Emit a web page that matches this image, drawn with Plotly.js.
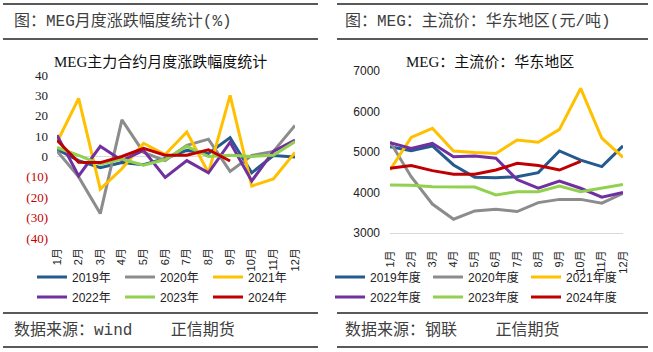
<!DOCTYPE html>
<html>
<head>
<meta charset="utf-8">
<script src="https://cdn.plot.ly/plotly-3.0.1.min.js"></script>
<style>html,body{margin:0;padding:0;background:#fff;}#chart{width:653px;height:352px;}</style>
</head>
<body>
<div id="chart"></div>
<script>
// ---- data ----
var months = ['1月','2月','3月','4月','5月','6月','7月','8月','9月','10月','11月','12月'];

// left: monthly change (%)
var chgNames = ['2019年','2020年','2021年','2022年','2023年','2024年'];
var chg2019 = [3.5, -2, -5.5, -3, -4, -1, 3, 1.5, 9.3, -8, 0.5, -0.3];
var chg2020 = [2.7, -10, -28, 18, 2, -2, 5.5, 8.5, -7.3, 0.5, 2.5, 15.2];
var chg2021 = [7, 28.5, -16, -6, 6.5, 1, 12, -8, 30, -14.5, -11, 2];
var chg2022 = [10.5, -9.5, 5, -2, 3, -10.3, -2, -8, 7, -12, 2.5, 8];
var chg2023 = [4.4, 0.5, -3.8, -1.3, -4.3, -1.5, 5, 0, 0.6, 0, 0.6, 7.3];
var chg2024 = [8, -2.8, -3, 0, 4, 0.6, 0.6, 3.3, -2.2];
var chgTickVals = [-40, -30, -20, -10, 0, 10, 20, 30, 40];
var chgTickText = ['(40)', '(30)', '(20)', '(10)', '0', '10', '20', '30', '40'];

// right: East China mainstream price (元/吨)
var priceNames = ['2019年度','2020年度','2021年度','2022年度','2023年度','2024年度'];
var p2019 = [5130, 5030, 5150, 4680, 4375, 4365, 4390, 4490, 5025, 4800, 4640, 5150];
var p2020 = [5255, 4390, 3715, 3340, 3545, 3585, 3530, 3750, 3830, 3830, 3735, 3980];
var p2021 = [4555, 5360, 5585, 5025, 4985, 4965, 5295, 5240, 5560, 6570, 5340, 4870];
var p2022 = [5230, 5090, 5215, 4885, 4900, 4845, 4320, 4105, 4280, 4105, 3885, 4000];
var p2023 = [4185, 4180, 4145, 4135, 4135, 3940, 4020, 4020, 4160, 4020, 4105, 4200];
var p2024 = [4600, 4665, 4540, 4450, 4450, 4555, 4720, 4665, 4555, 4770];
var priceTickVals = [3000, 4000, 5000, 6000, 7000];

var colors = ['#245A8C', '#8C8C8C', '#FFC000', '#7030A0', '#92D050', '#C00000'];

// ---- helpers ----
var W = 653, H = 352;
function px(x){ return x / W; }
function py(y){ return 1 - y / H; }

var chgSeries = [chg2019, chg2020, chg2021, chg2022, chg2023, chg2024];
var priceSeries = [p2019, p2020, p2021, p2022, p2023, p2024];

var traces = [];
chgSeries.forEach(function(s, i){
  traces.push({
    type: 'scatter', mode: 'lines', name: chgNames[i],
    x: months.slice(0, s.length), y: s, xaxis: 'x', yaxis: 'y',
    line: {color: colors[i], width: 3},
    legend: i < 3 ? 'legend' : 'legend2', hoverinfo: 'skip'
  });
});
priceSeries.forEach(function(s, i){
  traces.push({
    type: 'scatter', mode: 'lines', name: priceNames[i],
    x: months.slice(0, s.length), y: s, xaxis: 'x2', yaxis: 'y2',
    line: {color: colors[i], width: 3},
    legend: i < 3 ? 'legend3' : 'legend4', hoverinfo: 'skip'
  });
});

var negTickText = chgTickText.map(function(t, i){
  return chgTickVals[i] < 0 ? '<span style="color:#C00000">' + t + '</span>' : t;
});

var sansFont = 'Liberation Sans, Noto Sans CJK SC, sans-serif';
var cjkFont = 'Liberation Mono, Noto Sans CJK SC, sans-serif';

function legendCfg(xPix, yPix){
  return {
    orientation: 'h', x: px(xPix), xanchor: 'left', y: py(yPix), yanchor: 'middle',
    font: {family: sansFont, size: 12, color: '#222'},
    entrywidth: 43, entrywidthmode: 'pixels', bgcolor: 'rgba(0,0,0,0)',
    itemclick: false, itemdoubleclick: false
  };
}
var legR = legendCfg(330, 277);
legR.entrywidth = 53;

var lineColor = '#222';
function hline(x0, x1, y){
  return {type: 'line', xref: 'paper', yref: 'paper', x0: px(x0), x1: px(x1), y0: py(y), y1: py(y),
          line: {color: lineColor, width: 1.5}};
}

var layout = {
  width: W, height: H, autosize: false,
  margin: {l: 0, r: 0, t: 0, b: 0},
  paper_bgcolor: '#fff', plot_bgcolor: 'rgba(0,0,0,0)',
  showlegend: true,
  xaxis: {
    domain: [px(57), px(295)], anchor: 'y', type: 'category',
    showgrid: false, showline: false, zeroline: false, ticks: '',
    tickangle: -90, tickfont: {family: sansFont, size: 11, color: '#222'},
    ticklabelstandoff: 7, fixedrange: true
  },
  yaxis: {
    domain: [py(238), py(75)], anchor: 'x', range: [-40, 40],
    tickvals: chgTickVals, ticktext: negTickText,
    showgrid: false, showline: false, ticks: '',
    zeroline: true, zerolinecolor: '#D9D9D9', zerolinewidth: 1,
    tickfont: {family: 'Liberation Serif, serif', size: 13, color: '#222'},
    ticklabelstandoff: 8, fixedrange: true
  },
  xaxis2: {
    domain: [px(390), px(623)], anchor: 'y2', type: 'category',
    showgrid: false, showline: true, linecolor: '#D9D9D9', linewidth: 1, zeroline: false, ticks: '',
    tickangle: -90, tickfont: {family: sansFont, size: 11, color: '#222'},
    ticklabelstandoff: 12, fixedrange: true
  },
  yaxis2: {
    domain: [py(233), py(71)], anchor: 'x2', range: [3000, 7000],
    tickvals: priceTickVals,
    showgrid: false, showline: false, zeroline: false, ticks: '',
    tickfont: {family: sansFont, size: 12, color: '#222'},
    ticklabelstandoff: 9, fixedrange: true
  },
  legend: legendCfg(32, 277),
  legend2: legendCfg(32, 297),
  legend3: legR,
  legend4: Object.assign({}, legR, {y: py(297)}),
  shapes: [
    hline(3, 318, 4), hline(3, 318, 39), hline(3, 318, 313), hline(3, 318, 347),
    hline(337, 648, 4), hline(337, 648, 39), hline(337, 648, 313), hline(337, 648, 347)
  ],
  annotations: [
    {xref: 'paper', yref: 'paper', x: px(12), y: py(21), xanchor: 'left', yanchor: 'middle', showarrow: false,
     text: '图：MEG月度涨跌幅度统计(%)', font: {family: cjkFont, size: 16, color: '#404040'}},
    {xref: 'paper', yref: 'paper', x: px(343), y: py(21), xanchor: 'left', yanchor: 'middle', showarrow: false,
     text: '图：MEG：主流价：华东地区(元/吨)', font: {family: cjkFont, size: 16, color: '#404040'}},
    {xref: 'paper', yref: 'paper', x: px(160), y: py(62), xanchor: 'center', yanchor: 'middle', showarrow: false,
     text: 'MEG主力合约月度涨跌幅度统计', font: {family: 'Liberation Serif, Noto Sans CJK SC, serif', size: 15, color: '#111'}},
    {xref: 'paper', yref: 'paper', x: px(490), y: py(62), xanchor: 'center', yanchor: 'middle', showarrow: false,
     text: 'MEG：主流价：华东地区', font: {family: 'Liberation Serif, Noto Sans CJK SC, serif', size: 15, color: '#111'}},
    {xref: 'paper', yref: 'paper', x: px(12), y: py(330), xanchor: 'left', yanchor: 'middle', showarrow: false,
     text: '数据来源：wind    正信期货', font: {family: cjkFont, size: 16, color: '#404040'}},
    {xref: 'paper', yref: 'paper', x: px(343), y: py(330), xanchor: 'left', yanchor: 'middle', showarrow: false,
     text: '数据来源：钢联    正信期货', font: {family: cjkFont, size: 16, color: '#404040'}}
  ]
};

Plotly.newPlot('chart', traces, layout, {displayModeBar: false, staticPlot: true});
</script>
</body>
</html>
